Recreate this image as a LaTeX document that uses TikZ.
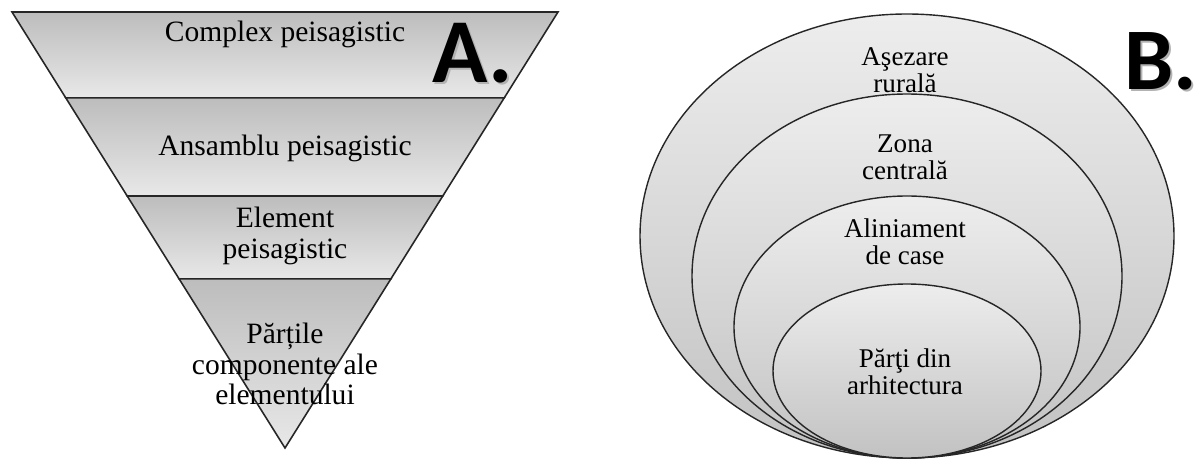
\documentclass[tikz,border=0pt]{standalone}
\usepackage{fontspec}
\setmainfont{Liberation Serif}
\newfontfamily\lblfont{Carlito}
\usetikzlibrary{calc}
\tikzset{band/.style={draw=black!85,line width=.9pt,top color=black!26,bottom color=black!9},ring/.style={draw=black!85,line width=.8pt,top color=black!7,bottom color=black!24},txt/.style={align=center,inner sep=0pt,font=\fontsize{16.8}{17.5}\selectfont},rtxt/.style={align=center,inner sep=0pt,font=\fontsize{15.4}{15.3}\selectfont},big/.style={inner sep=0pt,font=\lblfont\bfseries\fontsize{52}{52}\selectfont},shd/.style={text=black!30}}

\begin{document}
\begin{tikzpicture}[x=.02cm,y=-.02cm]
\useasboundingbox (0,0) rectangle (1197,463);
% A. inverted pyramid
\coordinate (tl) at (12,12);\coordinate (tr) at (558,12);\coordinate (ap) at (285,448);
\foreach \a/\b in {0/.197,.197/.422,.422/.612,.612/1}{\shade[band] ($(tl)!\a!(ap)$)--($(tr)!\a!(ap)$)--($(tr)!\b!(ap)$)--($(tl)!\b!(ap)$)--cycle;}
\node[txt] (cpx) at (285,34){Complex peisagistic};
\node[txt] (ans) at (285,148){Ansamblu peisagistic};
\node[txt] (elm) at (285,236){Element\\peisagistic};
\node[txt] (prt) at (285,364){Părțile\\componente ale\\elementului};
\node[big,shd] (ashd) at (475,55){A.};\node[big] (alab) at (473,53){A.};
% B. nested ellipses
\foreach \rx/\ry in {267/222,215/182,173/131,134/87}{\shade[ring] (907,458-\ry) ellipse [x radius=\rx,y radius=\ry];}
\node[rtxt] (asz) at (905,70){Aşezare\\rurală};
\node[rtxt] (zon) at (905,157){Zona\\centrală};
\node[rtxt] (aln) at (905,242){Aliniament\\de case};
\node[rtxt] (pti) at (905,372){Părţi din\\arhitectura};
\node[big,shd,font=\lblfont\bfseries\fontsize{50}{50}\selectfont] (bshd) at (1163,63){B.};\node[big,font=\lblfont\bfseries\fontsize{50}{50}\selectfont] (blab) at (1161,61){B.};
\end{tikzpicture}
\end{document}
